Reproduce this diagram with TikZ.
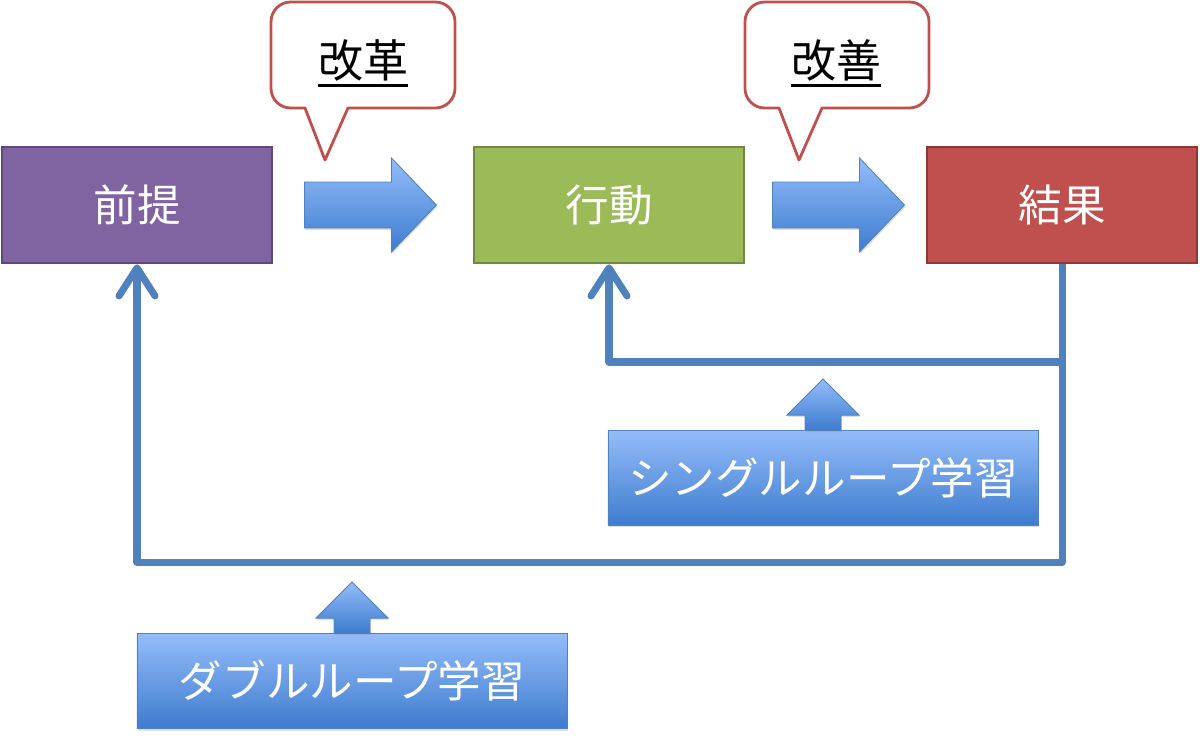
\documentclass[tikz,border=0pt]{standalone}
\usepackage{fontspec}
\setmainfont{Noto Sans CJK JP}
\usetikzlibrary{arrows.meta,calc,shadows}
\definecolor{premisefill}{RGB}{128,100,162}
\definecolor{premiseline}{RGB}{94,73,122}
\definecolor{actionfill}{RGB}{155,187,89}
\definecolor{actionline}{RGB}{113,137,63}
\definecolor{resultfill}{RGB}{192,80,77}
\definecolor{resultline}{RGB}{140,56,54}
\definecolor{loopblue}{RGB}{79,129,189}
\definecolor{arrowtop}{RGB}{148,188,250}
\definecolor{arrowbottom}{RGB}{62,124,206}
\definecolor{calloutred}{RGB}{192,80,77}

\newcommand\flowarrow[1]{%
  \path[blockarrow] ($(#1)+(0,-23)$) -- ++(87,0) -- ++(0,-24) -- ++(45,47)
    -- ++(-45,47) -- ++(0,-24) -- ++(-87,0) -- cycle;}
\newcommand\liftarrow[1]{%
  \path[blockarrow] ($(#1.north)+(-18,0)$) -- ++(0,-15) -- ++(-18,0) -- ++(36,-36)
    -- ++(36,36) -- ++(-18,0) -- ++(0,15) -- cycle;}
\newcommand\callout[1]{%
  \draw[calloutline] ($(#1)+(34,106)$) [rounded corners=14] -- ++(-34,0) -- ++(0,-106)
    -- ++(184,0) -- ++(0,106) [sharp corners] -- ++(-107,0) -- ++(-23,52) -- cycle;}

\begin{document}
\begin{tikzpicture}[x=0.025cm,y=-0.025cm,
    stage/.style={line width=2pt,minimum width=6.75cm,minimum height=2.9cm,
      text=white,font=\fontsize{31}{36}\selectfont},
    blockarrow/.style={draw=loopblue,line width=0.6pt,top color=arrowtop,bottom color=arrowbottom,
      drop shadow={opacity=0.25,shadow xshift=0.6pt,shadow yshift=-1.4pt}},
    learnbox/.style={blockarrow,minimum width=10.75cm,minimum height=2.375cm,
      text=white,font=\fontsize{31}{36}\selectfont},
    calloutline/.style={draw=calloutred,line width=2pt,fill=white,line join=round},
    callouttext/.style={inner sep=0pt,font=\fontsize{32}{36}\selectfont},
    feedback/.style={draw=loopblue,line width=5pt,line join=round,
      -{Straight Barb[length=7mm,width=9mm,round]}}]
  \useasboundingbox (0,0) rectangle (1200,739);

  \node[stage,fill=premisefill,draw=premiseline] (premise) at (137,205) {前提};
  \node[stage,fill=actionfill,draw=actionline] (action) at (609,205) {行動};
  \node[stage,fill=resultfill,draw=resultline] (result) at (1062,205) {結果};

  \coordinate (flowA) at ($(premise.east)+(31,0)$);
  \coordinate (flowB) at ($(action.east)+(27,0)$);
  \flowarrow{flowA}
  \flowarrow{flowB}

  \coordinate (reformcorner) at (271,2);
  \coordinate (improvecorner) at (745,2);
  \callout{reformcorner}
  \callout{improvecorner}
  \node[callouttext] (reform) at (363,60) {改革};
  \node[callouttext] (improve) at (836,60) {改善};
  \draw[line width=2pt] ([yshift=-3pt]reform.south west) -- ([yshift=-3pt]reform.south east);
  \draw[line width=2pt] ([yshift=-3pt]improve.south west) -- ([yshift=-3pt]improve.south east);

  \coordinate (singleturn) at (1062,362);
  \coordinate (doubleturn) at (1062,562);
  \draw[feedback] (result.south) -- (singleturn) -| (action.south);
  \draw[feedback] (result.south) -- (doubleturn) -| (premise.south);

  \node[learnbox] (single) at (823,478) {シングルループ学習};
  \node[learnbox] (double) at (352,681) {ダブルループ学習};
  \liftarrow{single}
  \liftarrow{double}
\end{tikzpicture}
\end{document}
